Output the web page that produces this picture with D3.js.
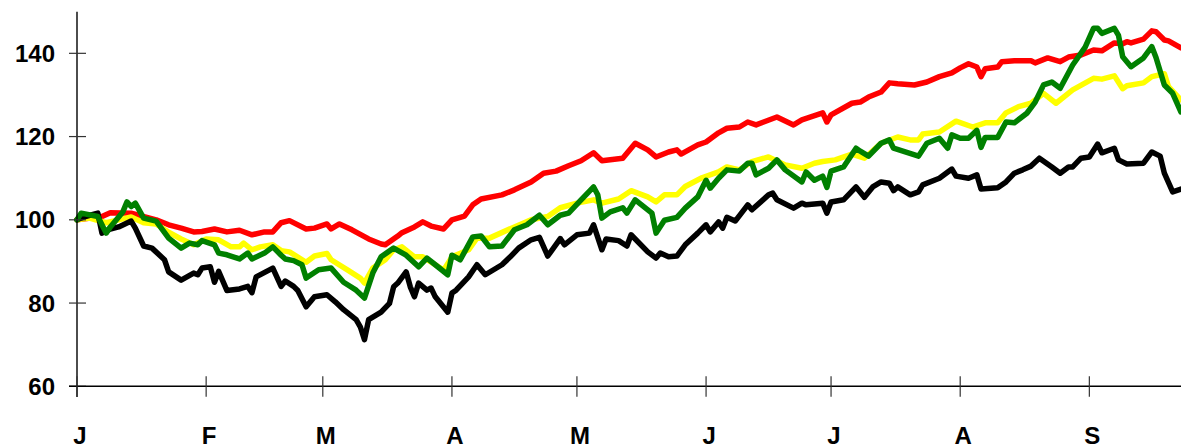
<!DOCTYPE html>
<html>
<head>
    <meta charset="UTF-8">
    <style>
        body { margin: 0; background: #fff; }
        svg { display: block; font-family: "Liberation Sans", Arial, Helvetica, sans-serif; }
        .lbl { font-size: 24px; font-weight: bold; fill: #000; }
        .line { fill: none; stroke-width: 5.5; stroke-linejoin: round; stroke-linecap: round; }
    </style>
    <script src="https://d3js.org/d3.v7.min.js"></script>
    <title>Index</title>
</head>
<body>
    <svg width="1181" height="448"></svg>

    <script>
        // day = days after 1 Jan, value = index (start = 100)
        var redSeries = [
            [0,100],[6,100.8],[8,101.7],[13,101.6],[19,100],[22,98.8],[25,98],[28,97.1],[30,97.2],[33,97.8],
            [36,97.1],[39,97.5],[42,96.4],[45,97.1],[47,97.1],[49,99.3],[51,99.8],[55,97.8],[57,98],[60,99],
            [61,97.8],[63,99],[66,97.6],[70,95.4],[73,94.2],[74,94],[77,96.1],[78,96.9],[81,98.3],[83,99.5],
            [85,98.5],[88,97.8],[90,100],[93,100.9],[95,103.6],[97,105],[102,106],[105,107.2],[109,109.1],[112,111.2],
            [115,111.7],[118,113],[121,114.2],[124,116.1],[126,114.2],[131,114.8],[134,118.4],[137,116.8],[139,115.1],[142,116.3],
            [144,116.8],[145,115.8],[149,118],[151,118.7],[154,120.9],[156,122],[159,122.3],[161,123.5],[163,122.8],[168,124.7],
            [172,122.8],[174,124],[179,125.7],[180,123.5],[181,125.2],[186,128],[188,128.3],[190,129.5],[193,130.7],[195,132.9],
            [197,132.7],[201,132.4],[204,133.1],[207,134.4],[210,135.3],[212,136.5],[214,137.5],[216,136.7],[217,134.4],[218,136.3],
            [221,136.7],[222,138],[225,138.2],[229,138.2],[230,137.7],[233,138.9],[236,138],[238,139.1],[241,139.6],[244,140.8],
            [246,140.6],[249,142.5],[251,142.3],[252,142.8],[253,142.5],[256,143.4],[258,145.4],[259,145.2],[261,143.2],[262,143],
            [265,141.3]
        ];
        var yellowSeries = [
            [0,100],[3,100.4],[7,99.3],[10,100],[13,100.7],[16,99.3],[19,99],[22,97],[25,95.4],[28,94],
            [31,95.4],[34,95.2],[37,93.5],[39,93.5],[40,94.4],[42,92.8],[44,93.5],[47,94],[49,92.6],[51,92.3],
            [55,89.8],[57,91.3],[60,91.9],[61,90.4],[65,87.9],[68,86],[69,84.8],[71,88.4],[74,90.4],[76,92.8],
            [78,93.5],[81,91.1],[83,91.1],[86,89.2],[88,87.9],[90,91.1],[94,92.8],[96,95.6],[99,95.6],[105,98.3],
            [109,100],[113,100.8],[116,102.9],[120,104],[124,104.8],[126,104],[130,105],[133,107],[137,105.5],[139,104.3],
            [141,106],[144,106],[146,108],[150,110.1],[154,111.5],[156,112.7],[159,112],[162,114],[166,115.1],[170,113.2],
            [174,112.4],[177,113.6],[179,114],[182,114.4],[186,115.8],[189,114.8],[193,118.4],[197,119.9],[200,119.2],[202,119.2],
            [203,120.6],[207,121.1],[211,123.7],[215,122.3],[218,123.3],[221,123.3],[223,125.7],[226,127.2],[229,128],[232,130.4],
            [235,128],[239,131.2],[244,134],[246,133.8],[249,134.6],[251,131.5],[252,132.2],[256,132.9],[258,134.4],[261,135.1],
            [262,132],[265,128.8]
        ];
        var blackSeries = [
            [0,100],[2,100.8],[5,101.6],[6,96.8],[8,97.8],[10,98.3],[13,99.7],[14,98],[16,93.7],[18,93.2],
            [21,90.4],[22,87.5],[25,85.5],[28,87.2],[29,86.8],[30,88.4],[32,88.7],[33,85],[34,87.6],[36,83],
            [39,83.4],[41,84],[42,82.5],[43,86.3],[47,88.4],[49,84],[50,85.3],[52,84],[53,83],[55,79.1],
            [57,81.5],[60,82],[62,80.3],[64,78.4],[67,76],[68,74.3],[69,71.2],[70,76],[73,77.8],[75,79.9],
            [76,83.9],[77,84.8],[79,87.5],[80,83.9],[81,81.5],[82,84.8],[84,83.1],[85,83.6],[86,81.5],[89,77.8],
            [90,82.4],[91,83.1],[94,86.3],[96,89.2],[98,86.8],[102,89.2],[104,91.1],[106,93.2],[109,95.2],[111,95.8],
            [113,91.3],[116,95.5],[117,94],[120,96.4],[123,96.8],[124,98.8],[126,92.8],[127,95.4],[130,95],[132,93.7],
            [133,96.4],[137,92.3],[139,90.8],[140,92],[142,91.1],[144,91.3],[146,94],[149,96.8],[151,98.8],[152,97.1],
            [154,99.5],[155,98],[156,100.6],[158,99.7],[161,103.6],[162,102.4],[166,106],[167,106.4],[168,104.8],[172,102.8],
            [174,104],[175,103.6],[179,104],[180,101.6],[181,104.3],[184,104.8],[187,107.9],[189,105.4],[191,107.9],[193,109.1],
            [195,108.8],[196,107],[197,107.9],[200,106],[202,106.7],[203,108.4],[207,110],[210,112.2],[211,110.5],[214,110],
            [216,110.8],[217,107.4],[221,107.7],[223,109.1],[225,111.2],[227,112],[229,112.9],[231,114.8],[234,112.7],[236,111.2],
            [238,112.7],[239,112.7],[241,114.8],[243,115.1],[245,118.2],[246,116.1],[249,117.2],[250,114.4],[252,113.4],[256,113.6],
            [258,116.3],[260,115.3],[261,111.2],[263,106.7],[265,107.4]
        ];
        var greenSeries = [
            [0,100],[1,101.6],[5,100.8],[7,96.8],[8,98.3],[11,101.9],[12,104.3],[13,103.2],[14,104],[16,100.4],
            [19,99.7],[22,95.6],[25,93.2],[27,94.4],[29,94],[30,95],[33,94],[34,92],[36,91.6],[39,90.6],
            [41,92],[42,90.6],[45,92],[47,93.5],[49,91.5],[50,90.6],[52,90.2],[54,89.2],[55,86],[58,88],
            [61,88.4],[64,85],[67,83.1],[69,81.2],[71,87.2],[73,91.1],[76,93.2],[79,91.5],[82,88.7],[84,90.8],
            [86,89.2],[89,86.8],[90,91.5],[92,90.4],[95,95.9],[97,96.1],[99,93.5],[102,93.7],[105,97.6],[108,98.8],
            [111,101.1],[113,98.8],[116,101.1],[118,101.6],[121,104.8],[124,107.9],[125,106],[126,100.4],[128,101.9],[131,102.9],
            [132,101.6],[134,104.8],[138,101.6],[139,96.8],[141,99.9],[144,100.6],[146,102.8],[149,105.5],[151,109.5],[152,107.6],
            [154,110],[156,112],[159,111.7],[161,113.6],[162,113.6],[163,110.8],[166,112.4],[168,114.4],[170,112],[174,109.1],
            [175,111.5],[177,109.5],[179,110.5],[180,107.8],[181,111.7],[184,112.7],[187,117.2],[188,116.5],[190,115.3],[193,118.4],
            [195,119.2],[196,117.2],[202,115.3],[204,118.4],[207,119.6],[209,117.2],[210,120.4],[212,119.6],[214,119.6],[216,121.5],
            [217,117.4],[218,119.8],[221,119.8],[223,123.5],[225,123.3],[228,125.6],[230,128.3],[232,132.4],[234,133.1],[236,131.6],
            [239,137.2],[242,141.5],[244,146],[245,146],[246,144.8],[249,146],[250,144.3],[251,139.2],[253,136.8],[256,138.9],
            [258,141.6],[259,139],[261,132.4],[263,130.4],[265,125.9]
        ];

        var yTicks = [60, 80, 100, 120, 140];
        var monthLabels = ["J", "F", "M", "A", "M", "J", "J", "A", "S"];

        var series = [
            { color: "#ff0000", data: redSeries },
            { color: "#ffff00", data: yellowSeries },
            { color: "#000000", data: blackSeries },
            { color: "#008000", data: greenSeries }
        ];

        var svg = d3.select("svg");
        var start = new Date(Date.UTC(2021, 0, 1));
        function toDate(d) { return d3.utcDay.offset(start, d); }

        var x = d3.scaleUtc()
            .domain([start, toDate(265)])
            .range([77, 1181]);
        var y = d3.scaleLinear()
            .domain([60, 150])
            .range([386.3, 11.7]);

        // lines
        var line = d3.line()
            .x(function(d) { return x(toDate(d[0])); })
            .y(function(d) { return y(d[1]); });

        svg.selectAll(".line")
            .data(series)
            .enter()
            .append("path")
            .attr("class", "line")
            .attr("stroke", function(s) { return s.color; })
            .attr("d", function(s) { return line(s.data); });

        // y axis
        var yAxis = svg.append("g")
            .attr("transform", "translate(77,0)");
        yAxis.append("line")
            .attr("x1", 0).attr("x2", 0)
            .attr("y1", y(150)).attr("y2", 397)
            .attr("stroke", "#000").attr("stroke-width", 1.4);
        yAxis.selectAll(".yt")
            .data(yTicks)
            .enter()
            .append("line")
            .attr("x1", -8).attr("x2", 9)
            .attr("y1", function(d) { return y(d); })
            .attr("y2", function(d) { return y(d); })
            .attr("stroke", "#333").attr("stroke-width", 1.2);
        yAxis.selectAll(".yl")
            .data(yTicks)
            .enter()
            .append("text")
            .attr("class", "lbl")
            .attr("x", -22)
            .attr("y", function(d) { return y(d); })
            .attr("dy", "0.36em")
            .attr("text-anchor", "end")
            .text(function(d) { return d; });

        // x axis
        var months = d3.utcMonth.range(start, toDate(265));
        var xAxis = svg.append("g")
            .attr("transform", "translate(0," + y(60) + ")");
        xAxis.append("line")
            .attr("x1", 69).attr("x2", 1181)
            .attr("y1", 0).attr("y2", 0)
            .attr("stroke", "#000").attr("stroke-width", 1.4);
        xAxis.selectAll(".xt")
            .data(months)
            .enter()
            .append("line")
            .attr("x1", function(d) { return x(d); })
            .attr("x2", function(d) { return x(d); })
            .attr("y1", -10).attr("y2", 10.5)
            .attr("stroke", "#333").attr("stroke-width", 1.2);
        xAxis.selectAll(".xl")
            .data(months)
            .enter()
            .append("text")
            .attr("class", "lbl")
            .attr("x", function(d) { return x(d) + 3; })
            .attr("y", 58)
            .attr("text-anchor", "middle")
            .text(function(d, i) { return monthLabels[i]; });
    </script>
</body>
</html>
